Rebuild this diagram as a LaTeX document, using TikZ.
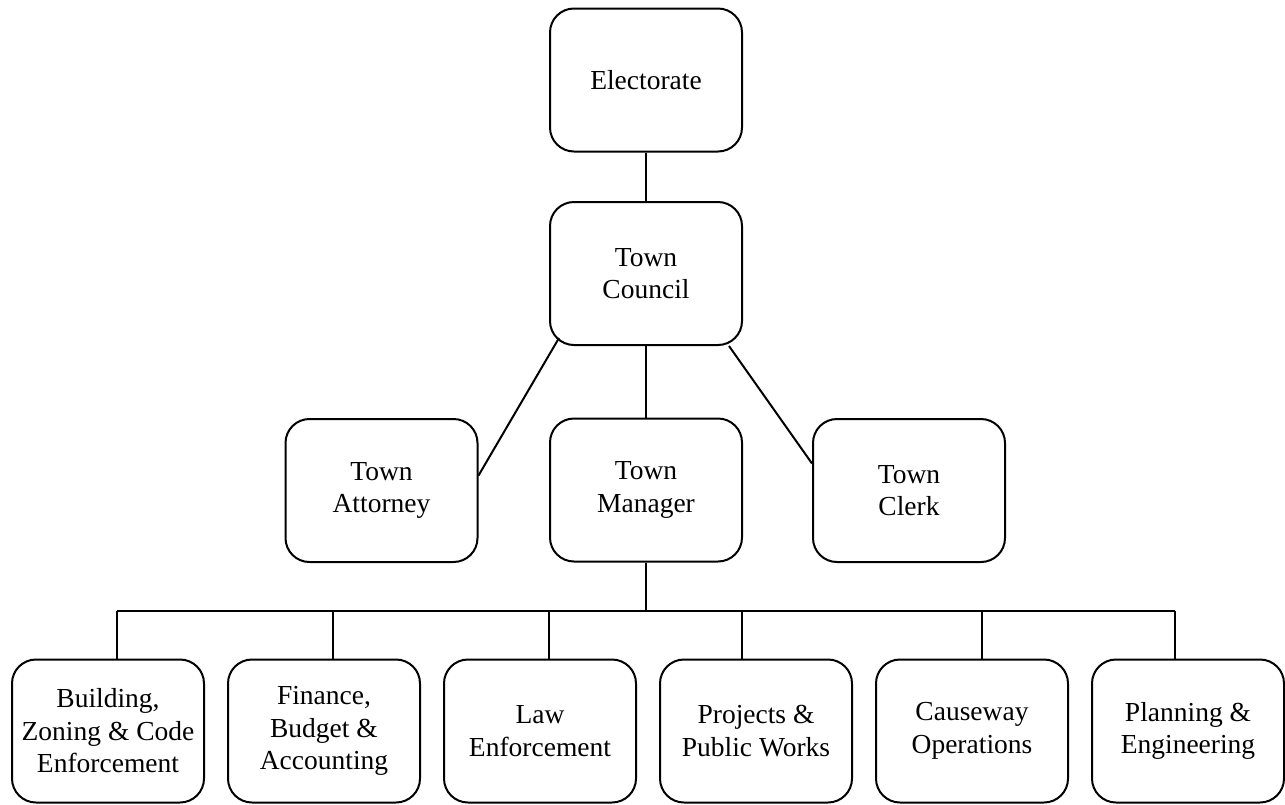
\documentclass[tikz,border=0pt]{standalone}
\usepackage{fontspec}
\setmainfont{Liberation Serif}
\usetikzlibrary{calc}

\begin{document}
\begin{tikzpicture}[x=0.5pt, y=-0.5pt, line width=1pt,
    office/.style={draw, rounded corners=12pt, minimum width=96pt, minimum height=71.5pt,
        inner sep=0pt, align=center, font=\fontsize{13.75}{16.25}\selectfont}]
    \useasboundingbox (0, 0) rectangle (1285, 804);

    \node[office] (electorate) at (646, 80) {Electorate};
    \node[office] (council) at (646, 273.5) {Town\\Council};
    \node[office] (attorney) at (381.5, 490.5) {Town\\Attorney};
    \node[office] (manager) at (646, 490) {Town\\Manager};
    \node[office] (clerk) at (909, 490.5) {Town\\Clerk};

    \draw (electorate) -- (council);
    \draw (council) -- (manager);
    \draw ($(council.south west) + (10, -8)$) -- ($(attorney.east) + (0, -15)$);
    \draw ($(council.south east) + (-14, 0)$) -- ($(clerk.west) + (0, -27)$);

    % departments under the manager
    \foreach \n/\cx/\dx/\txt in {1/108/117/{Building,\\Zoning \& Code\\Enforcement},
                                 2/324/333/{Finance,\\Budget \&\\Accounting},
                                 3/540/549/{Law\\Enforcement},
                                 4/756/742/{Projects \&\\Public Works},
                                 5/972/982/{Causeway\\Operations},
                                 6/1188/1175/{Planning \&\\Engineering}} {
        \node[office] (dept\n) at (\cx, 731) {\txt};
        \coordinate (drop\n) at (\dx, 611);
        \draw (drop\n) -- (dept\n.north -| drop\n);
    }
    \draw (drop1) -- (drop6);
    \draw (manager) -- (manager |- drop1);
\end{tikzpicture}
\end{document}
